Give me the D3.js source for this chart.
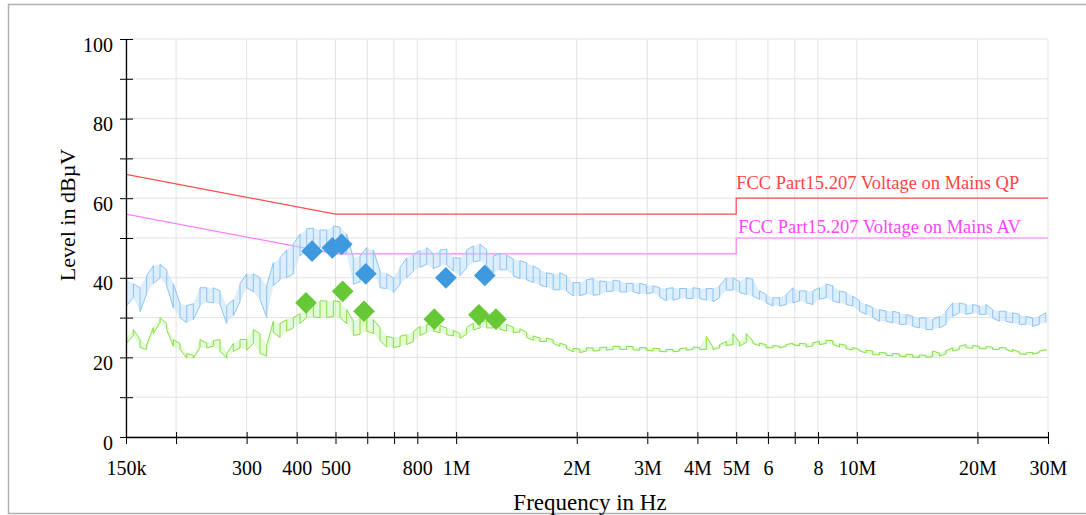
<!DOCTYPE html>
<html>
<head>
<meta charset="utf-8">
<script src="https://cdn.jsdelivr.net/npm/d3@7"></script>
<style>
  body { margin: 0; background: #fff; }
  svg { display: block; font-family: "Liberation Serif", "Times New Roman", serif; }
</style>
</head>
<body>
<svg id="chart" width="1086" height="515"></svg>
<script>
// conducted emission scan, 150 kHz - 30 MHz

// sweep frequencies in kHz
var freqKHz = [150.6,156.5,162.6,168.9,175.5,182.4,189.5,196.9,204.6,212.6,
  220.9,229.5,238.5,247.8,257.5,267.5,278.0,288.8,300.1,311.8,
  324.0,336.7,349.8,363.5,377.7,392.4,407.8,423.7,440.2,457.4,
  475.3,493.9,513.2,533.2,554.0,575.7,598.2,621.5,645.8,671.0,
  697.2,724.5,752.8,782.2,812.7,844.5,877.5,911.7,947.2,984.2,
  1022.5,1062.4,1103.8,1146.9,1191.6,1238.0,1286.3,1336.5,1388.6,1442.7,
  1499.0,1557.4,1618.2,1681.3,1746.9,1815.0,1885.7,1959.3,2035.7,2115.0,
  2197.5,2283.2,2372.3,2464.8,2561.0,2660.8,2764.5,2872.4,2984.4,3100.8,
  3221.7,3347.4,3477.9,3613.5,3754.5,3900.9,4053.0,4211.1,4375.4,4546.0,
  4723.3,4907.6,5099,5298,5504,5719,5942,6174,6415,6665,
  6925,7195,7476,7767,8070,8385,8712,9052,9405,9771,
  10153,10548,10960,11387,11832,12293,12772,13271,13788,14326,
  14885,15465,16068,16695,17346,18023,18726,19456,20215,21003,
  21822,22674,23558,24477,25431,26424,27454,28525,29637];

// peak detector trace (upper / lower edge of the noise), dBuV
var peakHi = [39.5,38.5,37.5,40.5,43,43.4,42,38.5,33.5,33,
  33.5,37.5,37.5,37.5,36.7,33,34.5,38.5,41,41,
  40,38,43.8,45,47,48.5,51,52.3,52.5,52,
  52,53,52.7,51,45,45.5,47.6,47,41.7,41,
  40,42.6,45,46,46.8,47.6,46,47,47.2,45,
  45,47,48,48.5,47,45.5,46,45.7,44.7,44.3,
  43.8,43,42,41.3,40.9,41.3,40.5,38.8,38.8,39.5,
  39.8,39.2,39,39.4,39.2,38.6,38.6,38.6,38.2,38,
  37.5,37.3,37.5,37.3,37.3,37.5,37.3,37.3,37.3,38,
  40,40,39,40,39.6,36.7,35.8,35,35,35.8,
  37.5,36.7,36.7,36.7,37.5,38.4,38,36.7,36.3,35.4,
  34.2,33.3,32.5,32,31.6,31.6,31.2,30.8,30.3,29.9,
  29.9,29.5,30.3,31.6,33.7,33.7,33.3,33.3,32.9,33.3,
  32,31.6,31.6,31.2,30.8,30.3,29.9,30.3,31.2];
var peakLo = [33,35,31.5,36,38.5,40,38,32.5,30,28.7,
  29.5,33,34,33.7,33.3,28.5,30.5,34,37.5,36.5,
  34.5,30,38,39.5,40,41,45.5,47,47,47.5,
  48,49,47.6,46,38.4,39,42,41.7,37.5,37.3,
  36.3,38.4,40,41.7,42.6,43.4,42.3,43,43.2,41.7,
  40.5,42.5,44,44.3,43,41.3,42,42,40.5,39.8,
  39.5,38.8,38.2,37.7,37,37,36.7,35.4,35.5,36,
  35.6,35.8,36.5,36.7,36.5,36.4,36.5,36,36,36.3,
  35.2,34.2,34.4,34.8,34.8,34.8,34.8,34.4,34,35,
  36.9,36.9,36.3,35.8,35.4,34.6,33.7,32.9,32.9,33.3,
  33.7,34.2,33.7,33.3,34.6,35,34.2,33.7,33.3,32.9,
  31.6,30.8,30,29.1,29.1,28.7,28.3,28.3,27.8,27.4,
  27,27,27.4,28.3,30.3,31.2,30.8,31.2,30.8,30.8,
  29.9,29.1,29.1,28.7,28.3,28.3,27.8,28.3,28.7];

// average detector trace, dBuV
var avgHi = [25,27,24.5,23.2,27.5,30,28.5,24.5,23.5,21,
  20.5,24.5,23.6,24.2,24.5,21,23.5,24.5,24.5,27,
  26,23,29.1,28.5,29.5,30,31,32.7,33.5,34.2,
  34.2,34.2,34,32,29.1,30,30.5,29.5,27.5,25.3,
  24.9,25.3,25.7,26.5,27.8,28.3,28.3,28,27.4,26.8,
  26,27.5,28.6,29.1,29.1,29.1,28.8,28.3,27.6,27.2,
  26.3,25.4,24.9,24.9,24.4,23.6,23,22.3,22.1,22.4,
  22.4,22.5,22.6,22.8,22.8,22.8,22.7,22.5,22.4,22.3,
  22.2,22,22,22.2,22.4,22.6,22.5,25.3,22.6,23.2,
  24,26,23.8,26,24.1,23.6,23.2,23,22.8,23.2,
  23.6,23.5,23.4,23.7,24,24.3,24.2,23.4,23,22.5,
  22,21.8,21.6,21.3,21.1,21,20.9,20.8,20.7,20.6,
  20.5,21.6,21.1,21.7,22.4,22.8,23.2,23,22.8,22.7,
  22.6,22.5,22.4,22,21.4,21.1,21.3,21.6,22];
var avgLo = [23.6,25.5,22.5,22,26,28.8,27,22.8,22,19.8,
  19.8,22.4,22.4,22.8,21.5,19.8,21.5,22.4,21.8,23.5,
  21,20.3,26.3,25,26.6,27.4,28.5,30,30.2,30,
  30,30.3,30,28.5,25.5,25.8,26.6,26,24.2,22.6,
  22.4,22.8,23.2,24,25.5,26.3,26.6,26.2,25.7,25.4,
  24.8,25.8,26.9,27.4,27.4,27.4,27.1,26.6,26.2,26.4,
  25,24.3,24,24,23.5,22.8,22.2,21.4,21.2,21.6,
  21.6,21.7,21.8,22,22,22,21.9,21.8,21.8,21.6,
  21.5,21.4,21.4,21.6,21.8,22,22,22,22,22.4,
  23,23.2,22.8,23.8,23.5,22.9,22.4,22.4,22.4,22.8,
  23.2,22.9,22.6,22.9,23.2,23.5,23.3,22.6,22.2,21.9,
  21.6,21.1,20.7,20.6,20.5,20.4,20.3,20.2,20.1,20,
  20,20.2,20.3,20.9,21.6,22,22.4,22.3,22.2,22.1,
  22,22,22,21.4,20.9,20.7,20.8,21.2,21.6];

// final measurements
var qpFreqKHz = [437, 491, 518, 595, 943, 1179];
var qpLevel = [46.7, 47.5, 48.4, 41.0, 40.0, 40.6];
var avFreqKHz = [422, 521, 589, 882, 1140, 1257];
var avLevel = [33.7, 36.6, 31.6, 29.6, 30.7, 29.6];

// FCC Part 15.207 limits
var limitFreqKHz = [150, 500, 5000, 5000, 30000];
var limitQP = [66, 56, 56, 60, 60];
var limitAV = [56, 46, 46, 50, 50];

// axis ticks
var xTickKHz = [150, 200, 300, 400, 500, 600, 700, 800, 1000, 2000, 3000, 4000, 5000, 6000, 7000, 8000, 10000, 20000, 30000];
var xTickText = ["150k", "", "300", "400", "500", "", "", "800", "1M", "2M", "3M", "4M", "5M", "6", "", "8", "10M", "20M", "30M"];
var yTicks = [0, 10, 20, 30, 40, 50, 60, 70, 80, 90, 100];

var svg = d3.select("#chart");

// outer frame
svg.append("rect")
  .attr("x", 8.5).attr("y", 4.5)
  .attr("width", 1100).attr("height", 509)
  .attr("fill", "none")
  .attr("stroke", "#b0b0b0")
  .attr("stroke-width", 1.5);

var x = d3.scaleLog().domain([150, 30000]).range([126, 1048]);
var y = d3.scaleLinear().domain([0, 100]).range([437, 39]);

// grid
var grid = svg.append("g");
grid.selectAll(".gx").data(xTickKHz).enter().append("line")
  .attr("x1", function (d) { return x(d); })
  .attr("x2", function (d) { return x(d); })
  .attr("y1", y(100)).attr("y2", y(0))
  .attr("stroke", "#e2e2e2");
grid.selectAll(".gy").data(yTicks).enter().append("line")
  .attr("x1", x(150)).attr("x2", x(30000))
  .attr("y1", function (d) { return y(d); })
  .attr("y2", function (d) { return y(d); })
  .attr("stroke", "#e2e2e2");

// limit lines
var limitLine = d3.line()
  .x(function (d) { return x(d[0]); })
  .y(function (d) { return y(d[1]); });

svg.append("path")
  .datum(d3.zip(limitFreqKHz, limitQP))
  .attr("d", limitLine)
  .attr("fill", "none")
  .attr("stroke", "#ff4d4d")
  .attr("stroke-width", 1.2);

svg.append("path")
  .datum(d3.zip(limitFreqKHz, limitAV))
  .attr("d", limitLine)
  .attr("fill", "none")
  .attr("stroke", "#ff80ff")
  .attr("stroke-width", 1.2);

svg.append("text")
  .attr("x", x(5000))
  .attr("y", y(60) - 9)
  .attr("font-size", 18.5)
  .attr("fill", "#ff4545")
  .text("FCC Part15.207 Voltage on Mains QP");

svg.append("text")
  .attr("x", x(5000) + 2)
  .attr("y", y(50) - 5)
  .attr("font-size", 18.5)
  .attr("fill", "#ff44ff")
  .text("FCC Part15.207 Voltage on Mains AV");

// noisy traces: light band plus vertical strokes between low and high edge
function drawTrace(lo, hi, fillColor, strokeColor, fillOpacity) {
  var pts = freqKHz.map(function (f, i) { return [f, lo[i], hi[i]]; });

  svg.append("path")
    .datum(pts)
    .attr("d", d3.area()
      .x(function (d) { return x(d[0]); })
      .y0(function (d) { return y(d[1]); })
      .y1(function (d) { return y(d[2]); }))
    .attr("fill", fillColor)
    .attr("fill-opacity", fillOpacity);

  var zig = [];
  pts.forEach(function (d, i) {
    if (i % 2 === 0) {
      zig.push([d[0], d[2]]); zig.push([d[0], d[1]]);
    } else {
      zig.push([d[0], d[1]]); zig.push([d[0], d[2]]);
    }
  });
  svg.append("path")
    .datum(zig)
    .attr("d", limitLine)
    .attr("fill", "none")
    .attr("stroke", strokeColor)
    .attr("stroke-width", 1);
}

drawTrace(peakLo, peakHi, "#b4d9fb", "#8cc4f6", 0.45);
drawTrace(avgLo, avgHi, "#b4f08a", "#86df48", 0.35);

// final measurement markers
var diamond = d3.symbol().type(d3.symbolSquare).size(235);

svg.selectAll(".qp").data(d3.zip(qpFreqKHz, qpLevel)).enter().append("path")
  .attr("d", diamond)
  .attr("transform", function (d) { return "translate(" + x(d[0]) + "," + y(d[1]) + ") rotate(45)"; })
  .attr("fill", "#3e99de");

svg.selectAll(".av").data(d3.zip(avFreqKHz, avLevel)).enter().append("path")
  .attr("d", diamond)
  .attr("transform", function (d) { return "translate(" + x(d[0]) + "," + y(d[1]) + ") rotate(45)"; })
  .attr("fill", "#65c834");

// y axis
var yAxis = svg.append("g")
  .attr("transform", "translate(" + x(150) + ",0)")
  .call(d3.axisLeft(y).tickValues(yTicks).tickSizeOuter(0)
    .tickFormat(function (d) { return d % 20 === 0 ? d : ""; }));
yAxis.select(".domain").attr("stroke", "#000").attr("stroke-width", 1.3);
yAxis.selectAll(".tick line").attr("x1", -6).attr("x2", 7).attr("stroke", "#000");
yAxis.selectAll(".tick text")
  .attr("x", -13).attr("dy", "0.6em")
  .attr("font-size", 20)
  .attr("font-family", "Liberation Serif, Times New Roman, serif")
  .attr("fill", "#000");

// x axis
var xAxis = svg.append("g")
  .attr("transform", "translate(0," + y(0) + ")")
  .call(d3.axisBottom(x).tickValues(xTickKHz).tickSizeOuter(0)
    .tickFormat(function (d, i) { return xTickText[i]; }));
xAxis.select(".domain").attr("stroke", "#000").attr("stroke-width", 1.3);
xAxis.selectAll(".tick line").attr("y1", -5).attr("y2", 7).attr("stroke", "#000");
xAxis.selectAll(".tick text")
  .attr("y", 38).attr("dy", 0)
  .attr("font-size", 20)
  .attr("font-family", "Liberation Serif, Times New Roman, serif")
  .attr("fill", "#000");

// axis titles
svg.append("text")
  .attr("transform", "translate(75,215) rotate(-90)")
  .attr("text-anchor", "middle")
  .attr("font-size", 22)
  .text("Level in dBµV");

svg.append("text")
  .attr("x", 590)
  .attr("y", 510)
  .attr("text-anchor", "middle")
  .attr("font-size", 23)
  .text("Frequency in Hz");
</script>
</body>
</html>
